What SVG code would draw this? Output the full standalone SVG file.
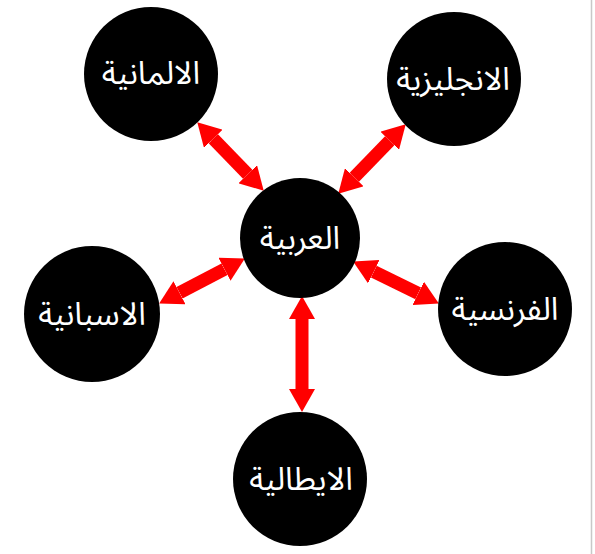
<svg xmlns="http://www.w3.org/2000/svg" width="595" height="554" viewBox="0 0 595 554">
  <defs>
    <marker id="head" markerUnits="userSpaceOnUse" markerWidth="23" markerHeight="26" refX="0" refY="13" orient="auto-start-reverse" viewBox="0 0 23 26">
      <path d="M0,0 L23,13 L0,26 z" fill="#ff0000"/>
    </marker>
  </defs>
  <style>
    .node circle { fill: #000000; }
    .node text { fill: #ffffff; font-family: "Noto Sans Arabic", "Noto Naskh Arabic", "DejaVu Sans", sans-serif; font-size: 32px; text-anchor: middle; direction: rtl; }
    .conn line { stroke: #ff0000; stroke-width: 13; marker-start: url(#head); marker-end: url(#head); }
  </style>
  <rect x="0" y="0" width="595" height="554" fill="#ffffff"/>
  <line x1="591.5" y1="0" x2="591.5" y2="554" stroke="#c8c8c8" stroke-width="1.5"/>
  <g id="connectors" class="conn">
    <line x1="302" y1="319" x2="302" y2="389"/>
    <line x1="213.3" y1="138.8" x2="247.7" y2="174.2"/>
    <line x1="389.7" y1="140.8" x2="354.3" y2="177.2"/>
    <line x1="373.8" y1="271.7" x2="418.2" y2="293.4"/>
    <line x1="224.5" y1="269.2" x2="179.5" y2="292.8"/>
  </g>
  <g id="node-arabic" class="node">
    <circle cx="300" cy="238" r="60"/>
    <text x="300" y="249">العربية</text>
  </g>
  <g id="node-german" class="node">
    <circle cx="151" cy="74" r="67"/>
    <text x="151" y="84">الالمانية</text>
  </g>
  <g id="node-english" class="node">
    <circle cx="454" cy="79" r="67"/>
    <text x="453" y="90">الانجليزية</text>
  </g>
  <g id="node-spanish" class="node">
    <circle cx="92" cy="314" r="68"/>
    <text x="92" y="325">الاسبانية</text>
  </g>
  <g id="node-french" class="node">
    <circle cx="505" cy="309" r="67"/>
    <text x="505" y="320">الفرنسية</text>
  </g>
  <g id="node-italian" class="node">
    <circle cx="300" cy="479" r="67"/>
    <text x="301" y="490">الايطالية</text>
  </g>
</svg>
